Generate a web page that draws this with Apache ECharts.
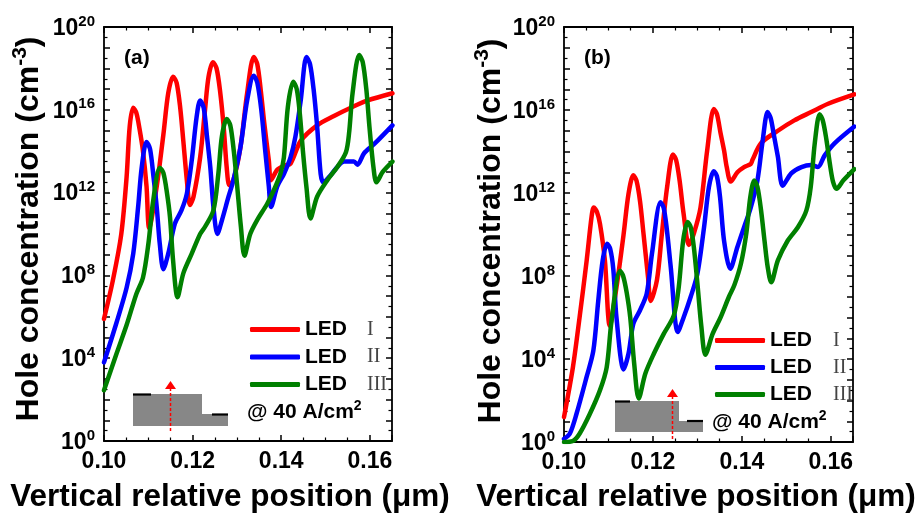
<!DOCTYPE html>
<html>
<head>
<meta charset="utf-8">
<script src="https://cdn.jsdelivr.net/npm/echarts@6/dist/echarts.min.js"></script>
<style>
html,body{margin:0;padding:0;background:#fff;}
#c{width:919px;height:513px;}
</style>
</head>
<body>
<div id="c"></div>
<script>
// ---- Data: x in micrometres, y as log10 of hole concentration (cm^-3) ----
const xTicks = [0.10, 0.12, 0.14, 0.16];
const yLabelExponents = [0, 4, 8, 12, 16, 20];
const ledNames = ['I', 'II', 'III'];

// Panel (a)
const a_LED1 = [[0.1000,5.9],[0.1020,7.76],[0.1039,10.0],[0.1051,12.75],[0.1058,15.2],[0.1066,16.1],[0.1073,15.85],[0.1080,15.1],[0.1088,14.0],[0.1096,12.3],[0.1102,10.3],[0.1119,12.3],[0.1134,14.8],[0.1145,16.8],[0.1156,17.6],[0.1164,17.3],[0.1172,16.1],[0.1179,14.5],[0.1187,12.6],[0.1194,11.4],[0.1202,11.8],[0.1217,13.7],[0.1228,16.0],[0.1236,17.6],[0.1246,18.3],[0.1254,18.0],[0.1262,16.9],[0.1270,15.2],[0.1277,13.2],[0.1283,12.35],[0.1292,12.6],[0.1308,14.2],[0.1323,16.8],[0.1338,18.55],[0.1346,18.2],[0.1354,16.9],[0.1362,15.3],[0.1372,13.55],[0.1377,12.6],[0.1391,13.1],[0.1406,13.3],[0.1421,13.4],[0.1444,14.5],[0.1481,15.25],[0.1519,15.7],[0.1557,16.1],[0.1595,16.45],[0.1651,16.8]];
const a_LED2 = [[0.1000,3.8],[0.1028,5.7],[0.1051,7.4],[0.1066,9.05],[0.1077,11.3],[0.1085,13.2],[0.1096,14.45],[0.1104,14.1],[0.1112,12.7],[0.1119,11.3],[0.1126,9.5],[0.1134,8.3],[0.1145,9.05],[0.1160,10.5],[0.1175,11.15],[0.1187,11.95],[0.1198,13.55],[0.1209,15.65],[0.1217,16.45],[0.1225,16.1],[0.1233,14.6],[0.1240,13.2],[0.1247,11.3],[0.1256,10.0],[0.1266,10.65],[0.1281,11.8],[0.1292,12.6],[0.1308,14.2],[0.1323,16.45],[0.1338,17.65],[0.1346,17.3],[0.1355,16.0],[0.1364,14.0],[0.1372,12.3],[0.1377,11.3],[0.1391,12.3],[0.1406,12.9],[0.1421,13.7],[0.1432,14.7],[0.1444,16.45],[0.1457,18.55],[0.1465,18.2],[0.1473,17.0],[0.1481,15.2],[0.1489,12.9],[0.1495,12.5],[0.1512,12.85],[0.1527,13.25],[0.1542,13.5],[0.1564,13.5],[0.1572,13.35],[0.1587,13.9],[0.1610,14.35],[0.1651,15.25]];
const a_LED3 = [[0.1000,2.45],[0.1028,4.2],[0.1051,5.6],[0.1073,7.1],[0.1088,7.9],[0.1100,9.5],[0.1111,11.6],[0.1126,13.2],[0.1134,12.95],[0.1142,12.0],[0.1149,10.8],[0.1156,8.7],[0.1166,6.95],[0.1179,8.1],[0.1198,9.05],[0.1217,10.0],[0.1228,10.35],[0.1247,11.15],[0.1258,12.9],[0.1266,14.7],[0.1277,15.55],[0.1285,15.25],[0.1293,14.0],[0.1300,12.45],[0.1309,10.35],[0.1317,8.95],[0.1330,10.0],[0.1345,10.65],[0.1368,11.45],[0.1383,12.1],[0.1398,12.9],[0.1406,13.7],[0.1415,16.15],[0.1427,17.35],[0.1435,17.0],[0.1442,15.8],[0.1449,14.0],[0.1457,12.25],[0.1466,10.75],[0.1481,11.8],[0.1504,12.6],[0.1527,13.25],[0.1546,13.95],[0.1553,14.85],[0.1561,16.8],[0.1576,18.65],[0.1584,18.3],[0.1592,17.0],[0.1599,15.2],[0.1608,13.25],[0.1615,12.5],[0.1629,13.0],[0.1651,13.5]];

// Panel (b)
const b_LED1 = [[0.1000,1.2],[0.1020,3.6],[0.1035,6.0],[0.1051,8.75],[0.1062,10.85],[0.1067,11.3],[0.1074,11.1],[0.1081,10.5],[0.1092,8.75],[0.1103,5.6],[0.1118,7.45],[0.1134,10.0],[0.1145,11.95],[0.1156,12.85],[0.1163,12.6],[0.1171,11.6],[0.1179,10.0],[0.1189,7.95],[0.1195,6.8],[0.1209,7.8],[0.1220,10.0],[0.1232,12.3],[0.1245,13.85],[0.1252,13.6],[0.1260,12.6],[0.1269,11.0],[0.1281,9.5],[0.1292,10.05],[0.1307,11.3],[0.1322,14.05],[0.1337,16.05],[0.1344,15.8],[0.1352,14.9],[0.1360,14.05],[0.1366,13.25],[0.1375,12.55],[0.1390,13.0],[0.1405,13.25],[0.1420,13.4],[0.1424,13.6],[0.1443,14.4],[0.1481,15.0],[0.1518,15.5],[0.1556,15.9],[0.1594,16.3],[0.1653,16.75]];
const b_LED2 = [[0.1000,0.15],[0.1013,0.4],[0.1028,1.35],[0.1051,3.15],[0.1066,4.4],[0.1077,6.8],[0.1087,8.75],[0.1097,9.55],[0.1104,9.3],[0.1111,8.3],[0.1118,6.0],[0.1134,3.5],[0.1145,4.25],[0.1156,5.7],[0.1171,6.35],[0.1186,7.15],[0.1198,9.1],[0.1217,11.55],[0.1224,11.3],[0.1231,10.3],[0.1240,8.45],[0.1256,5.3],[0.1269,6.0],[0.1285,7.0],[0.1300,8.1],[0.1315,10.35],[0.1326,12.3],[0.1337,13.05],[0.1344,12.8],[0.1351,11.8],[0.1360,9.7],[0.1374,8.35],[0.1390,9.4],[0.1405,10.35],[0.1420,11.3],[0.1435,12.6],[0.1447,14.55],[0.1458,15.9],[0.1465,15.6],[0.1472,14.8],[0.1481,13.75],[0.1492,12.35],[0.1511,12.95],[0.1534,13.25],[0.1556,13.35],[0.1571,13.25],[0.1586,13.8],[0.1609,14.4],[0.1653,15.2]];
const b_LED3 = [[0.1000,0.0],[0.1020,0.05],[0.1035,0.4],[0.1058,1.35],[0.1081,2.5],[0.1096,3.6],[0.1107,5.85],[0.1126,8.25],[0.1133,8.0],[0.1141,7.2],[0.1149,6.0],[0.1158,3.75],[0.1168,2.1],[0.1183,3.3],[0.1202,4.25],[0.1224,5.2],[0.1247,6.1],[0.1258,7.45],[0.1268,9.7],[0.1278,10.6],[0.1285,10.35],[0.1292,9.4],[0.1300,7.65],[0.1309,5.55],[0.1318,4.2],[0.1334,5.2],[0.1352,6.0],[0.1371,7.0],[0.1383,7.55],[0.1398,8.6],[0.1410,10.05],[0.1419,11.8],[0.1428,12.6],[0.1435,12.3],[0.1443,11.2],[0.1451,9.7],[0.1458,8.45],[0.1466,7.7],[0.1481,8.75],[0.1503,9.7],[0.1526,10.35],[0.1545,11.15],[0.1555,12.3],[0.1564,14.4],[0.1575,15.8],[0.1582,15.5],[0.1590,14.6],[0.1598,13.4],[0.1605,12.55],[0.1613,12.2],[0.1628,12.6],[0.1653,13.15]];

const colors = ['#ff0000', '#0000ff', '#008000'];

const chart = echarts.init(document.getElementById('c'), null, {renderer: 'canvas'});

const SANS = 'Liberation Sans, Arial, sans-serif';
const SERIF = 'Liberation Serif, Times New Roman, serif';

function xAxisBottom(gi) {
  return {
    type: 'value', gridIndex: gi, position: 'bottom', min: 0.10, max: 0.165, interval: 0.02,
    axisLine: {show: true, onZero: false, lineStyle: {color: '#000', width: 1.8}},
    axisTick: {show: true, inside: true, length: 6, lineStyle: {color: '#000', width: 1.5}},
    minorTick: {show: true, splitNumber: 4, length: 3.5, lineStyle: {color: '#000', width: 1.2}},
    splitLine: {show: false},
    axisLabel: {show: true, margin: 9, fontFamily: SANS, fontWeight: 'bold', fontSize: 23, color: '#000',
      showMaxLabel: false,
      formatter: v => (xTicks.some(t => Math.abs(t - v) < 1e-9) ? v.toFixed(2) : '')}
  };
}
function xAxisTop(gi) {
  return {
    type: 'value', gridIndex: gi, position: 'top', min: 0.10, max: 0.165, interval: 0.02,
    axisLine: {show: true, onZero: false, lineStyle: {color: '#000', width: 1.8}},
    axisTick: {show: true, inside: true, length: 6, lineStyle: {color: '#000', width: 1.5}},
    minorTick: {show: true, splitNumber: 4, length: 3.5, lineStyle: {color: '#000', width: 1.2}},
    splitLine: {show: false}, axisLabel: {show: false}
  };
}
function yAxisLeft(gi) {
  return {
    type: 'value', gridIndex: gi, position: 'left', min: 0, max: 20, interval: 1,
    axisLine: {show: true, onZero: false, lineStyle: {color: '#000', width: 1.8}},
    axisTick: {show: true, inside: true, length: 6, lineStyle: {color: '#000', width: 1.5}},
    minorTick: {show: true, splitNumber: 2, length: 3.5, lineStyle: {color: '#000', width: 1.2}},
    splitLine: {show: false},
    axisLabel: {show: true, interval: 0, margin: 9, color: '#000',
      formatter: v => (yLabelExponents.indexOf(v) >= 0 ? '{b|10}{s|' + v + '}' : ''),
      rich: {
        b: {fontFamily: SANS, fontWeight: 'bold', fontSize: 23, color: '#000', verticalAlign: 'bottom', lineHeight: 26},
        s: {fontFamily: SANS, fontWeight: 'bold', fontSize: 15, color: '#000', verticalAlign: 'bottom', lineHeight: 26, padding: [0, 0, 11, 0]}
      }}
  };
}
function yAxisRight(gi) {
  return {
    type: 'value', gridIndex: gi, position: 'right', min: 0, max: 20, interval: 1,
    axisLine: {show: true, onZero: false, lineStyle: {color: '#000', width: 1.8}},
    axisTick: {show: true, inside: true, length: 6, lineStyle: {color: '#000', width: 1.5}},
    minorTick: {show: true, splitNumber: 2, length: 3.5, lineStyle: {color: '#000', width: 1.2}},
    splitLine: {show: false}, axisLabel: {show: false}
  };
}

function lineSeries(name, data, color, xi, yi) {
  return {
    type: 'line', name: name, data: data, xAxisIndex: xi, yAxisIndex: yi,
    showSymbol: false, symbol: 'none', smooth: 0.3, clip: true,
    lineStyle: {color: color, width: 4.5, cap: 'round', join: 'round'},
    itemStyle: {color: color}, emphasis: {disabled: true}, z: 3
  };
}

function legendFor(left, top, gap, nameWidth) {
  return {
    show: true, orient: 'vertical', left: left, top: top, itemWidth: 50, itemHeight: 5, itemGap: gap,
    selectedMode: false, icon: 'roundRect',
    data: ledNames,
    formatter: n => '{a|LED}{r|' + n + '}',
    textStyle: {
      color: '#000', padding: [0, 0, 0, 0],
      rich: {
        a: {fontFamily: SANS, fontWeight: 'bold', fontSize: 21, color: '#000', width: nameWidth, lineHeight: 24},
        r: {fontFamily: SERIF, fontSize: 20, color: '#444', lineHeight: 24}
      }
    }
  };
}

function inset(poly, blk1, blk2, arrowX, arrowTop, arrowBottom, textX, textY) {
  return [
    {type: 'polygon', shape: {points: poly}, style: {fill: '#878787'}, z: 10},
    {type: 'line', shape: {x1: blk1[0], y1: blk1[2], x2: blk1[1], y2: blk1[2]}, style: {stroke: '#000', lineWidth: 2.2}, z: 11},
    {type: 'line', shape: {x1: blk2[0], y1: blk2[2], x2: blk2[1], y2: blk2[2]}, style: {stroke: '#000', lineWidth: 2.2}, z: 11},
    {type: 'line', shape: {x1: arrowX, y1: arrowTop + 7, x2: arrowX, y2: arrowBottom}, style: {stroke: '#ff0000', lineWidth: 1.5, lineDash: [3, 2]}, z: 12},
    {type: 'polygon', shape: {points: [[arrowX, arrowTop], [arrowX - 5.5, arrowTop + 8], [arrowX + 5.5, arrowTop + 8]]}, style: {fill: '#ff0000'}, z: 12},
    {type: 'text', left: textX, top: textY - 14, z: 12,
      style: {text: '{t|@ 40 A/cm}{s|2}', rich: {
        t: {fontFamily: SANS, fontWeight: 'bold', fontSize: 21, fill: '#000', verticalAlign: 'bottom', lineHeight: 26},
        s: {fontFamily: SANS, fontWeight: 'bold', fontSize: 14, fill: '#000', verticalAlign: 'bottom', lineHeight: 26, padding: [0, 0, 10, 0]}
      }}}
  ];
}

function yTitle(cx, cy) {
  return {type: 'text', x: cx, y: cy, rotation: Math.PI / 2, z: 12,
    style: {text: '{t|Hole concentration (cm}{s|-3}{t|)}', align: 'center', verticalAlign: 'middle',
      rich: {
        t: {fontFamily: SANS, fontWeight: 'bold', fontSize: 32, fill: '#000', verticalAlign: 'bottom', lineHeight: 36},
        s: {fontFamily: SANS, fontWeight: 'bold', fontSize: 21, fill: '#000', verticalAlign: 'bottom', lineHeight: 36, padding: [0, 0, 14, 0]}
      }}};
}
function xTitle(cx, cy) {
  return {type: 'text', x: cx, y: cy, z: 12,
    style: {text: 'Vertical relative position (\u03bcm)', align: 'center', verticalAlign: 'middle',
      fontFamily: SANS, fontWeight: 'bold', fontSize: 31.5, fill: '#000'}};
}
function panelLabel(x, y, t) {
  return {type: 'text', left: x, top: y, z: 12,
    style: {text: t, fontFamily: SANS, fontWeight: 'bold', fontSize: 21, fill: '#000'}};
}

const option = {
  backgroundColor: '#ffffff',
  animation: false,
  color: colors,
  grid: [
    {left: 104, top: 27, width: 288, height: 414, containLabel: false},
    {left: 564, top: 27, width: 289, height: 415, containLabel: false}
  ],
  xAxis: [xAxisBottom(0), xAxisTop(0), xAxisBottom(1), xAxisTop(1)],
  yAxis: [yAxisLeft(0), yAxisRight(0), yAxisLeft(1), yAxisRight(1)],
  legend: [legendFor(245, 314, 6.5, 62), legendFor(710, 325, 6, 63)],
  series: [
    lineSeries('I', a_LED1, colors[0], 0, 0),
    lineSeries('II', a_LED2, colors[1], 0, 0),
    lineSeries('III', a_LED3, colors[2], 0, 0),
    lineSeries('I', b_LED1, colors[0], 2, 2),
    lineSeries('II', b_LED2, colors[1], 2, 2),
    lineSeries('III', b_LED3, colors[2], 2, 2)
  ],
  graphic: [
    ...inset([[133, 394], [202, 394], [202, 414], [228, 414], [228, 426], [133, 426]],
      [133, 151, 394.5], [212, 228, 414.5], 170.5, 381, 433, 247, 413),
    ...inset([[615, 401], [679, 401], [679, 421], [703, 421], [703, 432], [615, 432]],
      [615, 630, 401.5], [687, 703, 421], 672.5, 389, 441, 712, 423),
    yTitle(27, 229), yTitle(489, 231),
    xTitle(230, 497), xTitle(696, 497),
    panelLabel(124, 48, '(a)'), panelLabel(584, 48, '(b)')
  ]
};
chart.setOption(option);
</script>
</body>
</html>
